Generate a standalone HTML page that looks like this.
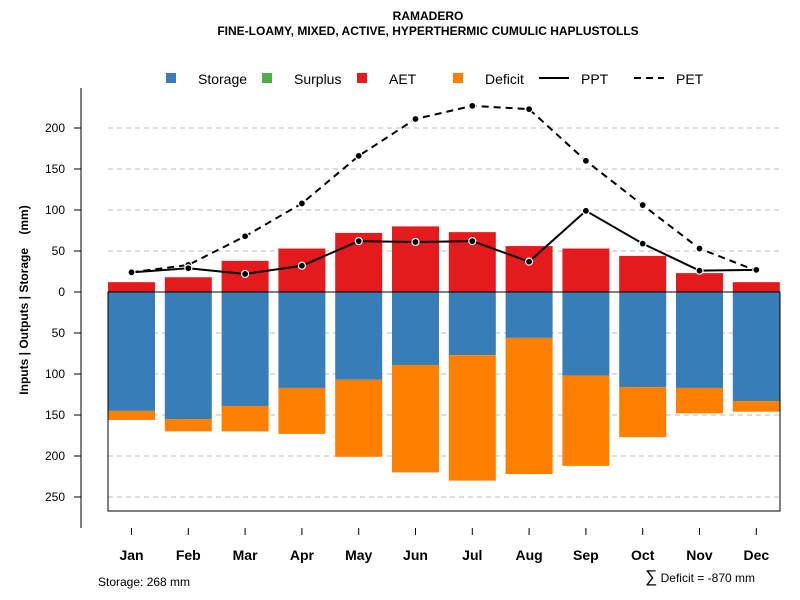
<!DOCTYPE html>
<html><head><meta charset="utf-8"><style>
body{margin:0;background:#fff}
svg{display:block;font-family:"Liberation Sans",sans-serif}
</style></head><body>
<svg id="chart" width="800" height="600" viewBox="0 0 800 600">
<text x="428" y="20" text-anchor="middle" font-size="12" font-weight="bold">RAMADERO</text>
<text x="428" y="35" text-anchor="middle" font-size="12" font-weight="bold">FINE-LOAMY, MIXED, ACTIVE, HYPERTHERMIC CUMULIC HAPLUSTOLLS</text>
<g id="legend" font-size="14">
 <g><rect x="166" y="73" width="10" height="10" fill="#377EB8"/><text x="198" y="84">Storage</text></g>
 <g><rect x="262" y="73" width="10" height="10" fill="#4DAF4A"/><text x="294" y="84">Surplus</text></g>
 <g><rect x="357" y="73" width="10" height="10" fill="#E41A1C"/><text x="389" y="84">AET</text></g>
 <g><rect x="453" y="73" width="10" height="10" fill="#FF7F00"/><text x="485" y="84">Deficit</text></g>
 <g><line x1="539" y1="78" x2="569" y2="78" stroke="#000" stroke-width="2"/><text x="581" y="84">PPT</text></g>
 <g><line x1="634" y1="78" x2="664" y2="78" stroke="#000" stroke-width="2" stroke-dasharray="7,5"/><text x="676" y="84">PET</text></g>
</g>
<text transform="translate(28,300) rotate(-90)" text-anchor="middle" font-size="12" font-weight="bold">Inputs | Outputs | Storage&#160;&#160;&#160;&#160;(mm)</text>
<text x="98" y="586" font-size="12">Storage: 268 mm</text>
<text x="755" y="582" text-anchor="end" font-size="12"><tspan font-size="17">∑</tspan> Deficit = -870 mm</text>
<g id="plot"></g>
</svg>
<script>
const months=["Jan","Feb","Mar","Apr","May","Jun","Jul","Aug","Sep","Oct","Nov","Dec"];
const aet=[12,18,38,53,72,80,73,56,53,44,23,12];
const storage=[145,155,139,117,107,89,77,56,102,116,117,133];
const deficit=[11,15,31,56,94,131,153,166,110,61,31,13];
const ppt=[24,29,22,32,62,61,62,37,99,59,26,27];
const pet=[24,33,68,108,166,211,227,223,160,106,53,26];
const posTicks=[0,50,100,150,200];
const negTicks=[50,100,150,200,250];

const NS="http://www.w3.org/2000/svg";
const g=document.getElementById('plot');
const y0=292,k=0.82;
function yv(v){return y0-v*k;}
function xc(i){return 131.5+i*56.8;}
const bw=47;
function mk(tag,attrs,parent){const e=document.createElementNS(NS,tag);for(const a in attrs)e.setAttribute(a,attrs[a]);(parent||g).appendChild(e);return e;}

posTicks.forEach(t=>{
 if(t>0){const l=mk('line',{x1:108,x2:780,y1:yv(t),y2:yv(t),stroke:'#bbb','stroke-dasharray':'5,4'});
 
 }
 const tk=mk('line',{x1:74,x2:81,y1:yv(t),y2:yv(t),stroke:'#000'});
 
 
 const tx=mk('text',{x:65,y:yv(t)+4,'text-anchor':'end','font-size':12});tx.textContent=t;
 
 
});
negTicks.forEach(t=>{
 const l=mk('line',{x1:108,x2:780,y1:yv(-t),y2:yv(-t),stroke:'#bbb','stroke-dasharray':'5,4'});
 
 
 const tk=mk('line',{x1:74,x2:81,y1:yv(-t),y2:yv(-t),stroke:'#000'});
 
 
 const tx=mk('text',{x:65,y:yv(-t)+4,'text-anchor':'end','font-size':12});tx.textContent=t;
 
 
});
const ax=mk('line',{x1:81,x2:81,y1:88,y2:528,stroke:'#000'});



months.forEach((m,i)=>{
 const x=xc(i);
 const a=mk('rect',{x:x-bw/2,y:yv(aet[i]),width:bw,height:aet[i]*k,fill:'#E41A1C'});
 
 
 const s=mk('rect',{x:x-bw/2,y:y0,width:bw,height:storage[i]*k,fill:'#377EB8'});
 
 
 const d=mk('rect',{x:x-bw/2,y:yv(-storage[i]),width:bw,height:deficit[i]*k,fill:'#FF7F00'});
 
 
 const tk=mk('line',{x1:x,x2:x,y1:528,y2:535,stroke:'#000'});
 
 
 const tx=mk('text',{x:x,y:560,'text-anchor':'middle','font-size':14,'font-weight':'bold'});tx.textContent=m;
 
 
});
const box=mk('rect',{x:108,y:y0,width:672,height:511-y0,fill:'none',stroke:'#000'});



function series(vals,name,dash){
 const p=mk('polyline',{points:vals.map((v,i)=>xc(i)+','+yv(v)).join(' '),fill:'none',stroke:'#000','stroke-width':2,'stroke-dasharray':dash||'none'});
 
 
 vals.forEach((v,i)=>{
  const c=mk('circle',{cx:xc(i),cy:yv(v),r:3.5,fill:'#000',stroke:'#fff','stroke-width':1.2});
  
  
 });
}
series(pet,'pet','7,5');
series(ppt,'ppt');
</script>
</body></html>
